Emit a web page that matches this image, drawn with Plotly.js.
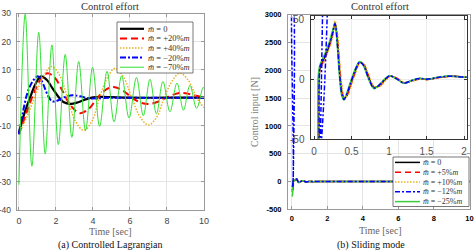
<!DOCTYPE html>
<html><head><meta charset="utf-8">
<script src="https://cdn.plot.ly/plotly-3.0.1.min.js"></script>
<style>html,body{margin:0;padding:0;background:#fff}#chart{width:476px;height:250px}</style>
</head><body><div id="chart"></div>
<script>
// ---------------- (a) Controlled Lagrangian : control effort ----------------
const lagNames = ['<i>m\u0304</i> = 0', '<i>m\u0304</i> = +20%<i>m</i>', '<i>m\u0304</i> = +40%<i>m</i>', '<i>m\u0304</i> = \u221220%<i>m</i>', '<i>m\u0304</i> = \u221270%<i>m</i>'];
const lagTimeTicks = [0, 2, 4, 6, 8, 10];
const lagEffortTicks = [-40, -30, -20, -10, 0, 10, 20, 30];
const lagEffortLabels = ['-40', '-30', '-20', '-10', '0', '10', '20', '30'];

const lagT0 = [0, 0.3, 0.6, 0.9, 1.2, 1.5, 1.8, 2.1, 2.4, 2.8, 3.2, 3.6, 4.0, 4.5, 5.0, 6.0, 8.0, 10];
const lagV0 = [-12.5, -5.5, 0, 5, 7.6, 6.4, 3.5, 0.6, -1.5, -2.2, -1.6, -0.6, 0.1, 0.3, 0.2, 0, 0, 0];

const lagTp20 = [0, 0.4, 0.8, 1.2, 1.55, 1.95, 2.35, 2.8, 3.3, 3.8, 4.25, 4.7, 5.1, 5.6, 6.1, 6.6, 7.1, 7.6, 8.1, 8.6, 9.0, 9.5, 10];
const lagVp20 = [-13, -5.5, 1.5, 6.8, 8.7, 7, 2.5, -2.8, -5.5, -3.8, 0, 2.9, 3.8, 2.6, 0, -1.8, -2.2, -1.2, 0.4, 1.6, 1.6, 0.8, 0.2];

const lagTp40 = [0, 0.45, 0.9, 1.35, 1.77, 2.2, 2.6, 3.05, 3.5, 3.95, 4.35, 4.8, 5.2, 5.65, 6.1, 6.55, 7.0, 7.45, 7.85, 8.3, 8.7, 9.15, 9.6, 10];
const lagVp40 = [-13, -6.5, 1, 8.0, 11.1, 8.0, 0.5, -8.3, -11.6, -8.3, 0, 7.4, 10.5, 7.4, 0, -6.9, -9.7, -6.9, 0, 6.2, 8.8, 6.2, 0, -3.6];

const lagTm20 = [0, 0.25, 0.5, 0.8, 1.05, 1.3, 1.55, 1.8, 2.1, 2.5, 2.9, 3.3, 3.8, 4.3, 5, 6, 8, 10];
const lagVm20 = [-13, -4, 2.5, 6.4, 7.6, 5, 1, -1.3, -1, 0.3, 0.9, 0.5, -0.2, -0.2, 0, 0, 0, 0];

const lagTm70 = [0, 0.34, 0.7, 1.07, 1.42, 1.78, 2.13, 2.5, 2.86, 3.23, 3.6, 3.98, 4.36, 4.76, 5.14, 5.55, 5.95, 6.35, 6.72, 7.08, 7.43, 7.78, 8.16, 8.54, 8.89, 9.24, 9.6, 9.95, 10];
const lagVm70 = [-31, 29.8, -24.4, 23.3, -20, 18.8, -16.7, 15.4, -14.1, 12.9, -11.7, 10.8, -10.2, 9.4, -8.6, 7.8, -7.2, 7.2, -6.4, 6.6, -5.7, 5.8, -5.0, 5.2, -4.4, 4.4, -3.8, 3.7, 3.3];

// ---------------- (b) Sliding mode : control input [N] ----------------
const smNames = ['<i>m\u0304</i> = 0', '<i>m\u0304</i> = +5%<i>m</i>', '<i>m\u0304</i> = +10%<i>m</i>', '<i>m\u0304</i> = \u221212%<i>m</i>', '<i>m\u0304</i> = \u221225%<i>m</i>'];
const smTimeTicks = [0, 2, 4, 6, 8, 10];
const smInputTicks = [-500, 0, 500, 1000, 1500, 2000, 2500, 3000];
const smInputLabels = ['-500', '0', '500', '1000', '1500', '2000', '2500', '3000'];
const insetTimeTicks = [0, 0.5, 1, 1.5, 2];
const insetTimeLabels = ['0', '0.5', '1', '1.5', '2'];
const insetInputTicks = [-50, 0, 50];
const insetInputLabels = ['-50', '0', '50'];

// start-up transient (per series)
const smSpikeT0 = [0, 0.05, 0.065];           const smSpikeV0 = [-150, -140, 5];
const smSpikeTp5 = [0, 0.055, 0.07];          const smSpikeVp5 = [-180, -160, 4];
const smSpikeTp10 = [0, 0.05, 0.068];         const smSpikeVp10 = [-90, -80, 5];
const smSpikeTm12 = [0, 0.034, 0.04, 0.072, 0.078]; const smSpikeVm12 = [-80, -80, 3300, 3300, -80];
const smSpikeTm25 = [0, 0.04, 0.06];          const smSpikeVm25 = [-265, -250, 5];

// response after the start-up (shared time samples)
const smBodyT = [0.08, 0.1, 0.13, 0.17, 0.21, 0.25, 0.28, 0.31, 0.34, 0.37, 0.4, 0.44, 0.5, 0.56, 0.61, 0.66, 0.72, 0.8, 0.88, 0.95, 1.01, 1.1, 1.2, 1.3, 1.41, 1.5, 1.65, 1.8, 2.0, 2.5, 3, 4, 5, 6, 8, 10];
const smBodyV0   = [9, 12, 16, 22, 29, 38, 47, 33, 8, -10, -16.5, -13, -2, 8.5, 14, 12, 3, -7, -5, -0.5, 2.5, 0.5, -3.3, -1.5, 0.4, -0.3, 1.2, 2.3, 1.7, 1.0, 0.5, 0.2, 0, 0, 0, 0];
const smBodyVp5  = [7, 11, 15, 21, 28, 37, 45, 36, 12, -7, -15.5, -14, -3.5, 7, 13.5, 12.5, 4, -6.5, -5.5, -1, 2.2, 0.8, -3, -1.8, 0.2, -0.4, 1.0, 2.2, 1.8, 1.0, 0.5, 0.2, 0, 0, 0, 0];
const smBodyVp10 = [6, 10, 14, 20, 27, 36, 48.5, 40, 15, -5, -15, -14.5, -4.5, 6, 13, 13, 5, -6, -6, -1.5, 2, 1, -2.8, -2, 0, -0.5, 0.9, 2.1, 1.9, 1.0, 0.5, 0.2, 0, 0, 0, 0];
const smBodyVm12 = [10, 13, 17, 23, 30, 39, 46, 30, 5, -12, -17, -12, -1, 9, 14.2, 11.5, 2, -7.5, -4.5, 0, 2.6, 0.3, -3.4, -1.3, 0.5, -0.2, 1.3, 2.4, 1.6, 1.0, 0.5, 0.2, 0, 0, 0, 0];
const smBodyVm25 = [12, 15, 19, 25, 32, 41, 46, 28, 2, -14, -17.5, -11, 0, 10, 14.5, 11, 1, -8, -4, 0.5, 2.7, 0, -3.5, -1.2, 0.6, -0.1, 1.4, 2.5, 1.6, 1.0, 0.5, 0.2, 0, 0, 0, 0];

// ---------------- styles ----------------
const W = 476, H = 250;
const px = x => x / W, py = y => 1 - y / H;
const serif = 'Liberation Serif, Times New Roman, serif';
const sans = 'Liberation Sans, Arial, sans-serif';

const lagStyle = [
  {color: '#000000', width: 2.2, dash: 'solid'},
  {color: '#ff0000', width: 2, dash: '7px,4px'},
  {color: '#edb120', width: 1.5, dash: '1.5px,1.5px'},
  {color: '#0000ff', width: 2, dash: '6px,2px,2px,2px'},
  {color: '#33e033', width: 1, dash: 'solid'}
];
const smStyle = [
  {color: '#000000', width: 1.5, dash: 'solid'},
  {color: '#ff0000', width: 1.5, dash: '6px,4px'},
  {color: '#edb120', width: 1.5, dash: '1.5px,1.5px'},
  {color: '#0000ff', width: 1.5, dash: '5px,2px,2px,2px'},
  {color: '#3ccc3c', width: 1.5, dash: 'solid'}
];

const traces = [];
const lagSeries = [[lagT0, lagV0], [lagTp20, lagVp20], [lagTp40, lagVp40], [lagTm20, lagVm20], [lagTm70, lagVm70]];
lagSeries.forEach((s, i) => traces.push({
  type: 'scatter', mode: 'lines', x: s[0], y: s[1], name: lagNames[i], xaxis: 'x', yaxis: 'y',
  line: {color: lagStyle[i].color, width: lagStyle[i].width, dash: lagStyle[i].dash, shape: 'spline'},
  hoverinfo: 'skip', showlegend: false
}));

const smSeries = [
  [smSpikeT0.concat(smBodyT), smSpikeV0.concat(smBodyV0)],
  [smSpikeTp5.concat(smBodyT), smSpikeVp5.concat(smBodyVp5)],
  [smSpikeTp10.concat(smBodyT), smSpikeVp10.concat(smBodyVp10)],
  [smSpikeTm12.concat(smBodyT), smSpikeVm12.concat(smBodyVm12)],
  [smSpikeTm25.concat(smBodyT), smSpikeVm25.concat(smBodyVm25)]
];
const smOrder = [0, 1, 2, 4, 3];
['2', '3'].forEach(ax => smOrder.forEach(i => traces.push({
  type: 'scatter', mode: 'lines', x: smSeries[i][0], y: smSeries[i][1], name: smNames[i],
  xaxis: 'x' + ax, yaxis: 'y' + ax,
  line: {color: smStyle[i].color, width: smStyle[i].width, dash: smStyle[i].dash, shape: 'spline'},
  hoverinfo: 'skip', showlegend: false
})));

// ---------------- custom compact legends ----------------
const shapes = [], annotations = [];
function legend(names, styles, box, row0, rowStep, lx0, lx1, tx, fs) {
  shapes.push({type: 'rect', xref: 'paper', yref: 'paper', layer: 'above',
    x0: px(box[0]), x1: px(box[1]), y0: py(box[3]), y1: py(box[2]),
    fillcolor: '#ffffff', line: {color: '#555', width: 0.8}});
  names.forEach((n, i) => {
    const y = row0 + i * rowStep;
    shapes.push({type: 'line', xref: 'paper', yref: 'paper', layer: 'above',
      x0: px(lx0), x1: px(lx1), y0: py(y), y1: py(y),
      line: {color: styles[i].color, width: styles[i].width, dash: styles[i].dash}});
    annotations.push({xref: 'paper', yref: 'paper', x: px(tx), y: py(y), xanchor: 'left', yanchor: 'middle',
      text: n, showarrow: false, font: {family: serif, size: fs, color: '#333'}});
  });
}
legend(lagNames, lagStyle, [117, 193, 22, 73], 28.8, 9.6, 120, 144, 146, 8.5);
legend(smNames, smStyle, [393, 469, 157, 206.5], 162.4, 9.8, 395, 420, 421, 8);

function label(text, x, y, size, color, angle) {
  annotations.push({xref: 'paper', yref: 'paper', x: px(x), y: py(y), xanchor: 'center', yanchor: 'middle',
    text: text, showarrow: false, textangle: angle || 0, font: {family: serif, size: size, color: color}});
}
label('Control effort', 110, 6, 10.5, '#333');
label('Control effort', 380, 6, 10.5, '#333');
label('Time [sec]', 110, 231, 10, '#666');
label('Time [sec]', 380, 230, 10, '#666');
label('Control input [N]', 255, 112, 10, '#777', -90);
label('(a) Controlled Lagrangian', 110, 245, 10, '#111');
label('(b) Sliding mode', 371, 245, 10, '#111');

// inset y tick labels, placed on the inset's own y scale
insetInputTicks.forEach((v, i) => annotations.push({xref: 'paper', yref: 'y3', x: px(306.5), y: v,
  xanchor: 'right', yanchor: 'middle', text: insetInputLabels[i], showarrow: false,
  font: {family: sans, size: 10, color: '#5a5050'}}));

const baseAx = {showline: true, mirror: 'ticks', ticks: 'inside', ticklen: 3, zeroline: false, showgrid: true, fixedrange: true};

const layout = {
  width: W, height: H, margin: {l: 0, r: 0, t: 0, b: 0},
  paper_bgcolor: '#ffffff', plot_bgcolor: '#ffffff', showlegend: false,
  xaxis: Object.assign({}, baseAx, {domain: [px(16.7), px(204)], range: [-0.12, 10], tickvals: lagTimeTicks,
    linecolor: '#999', tickcolor: '#999', gridcolor: '#e4e4e4', anchor: 'y', ticklabelstandoff: 2,
    tickfont: {family: sans, size: 9, color: '#444'}}),
  yaxis: Object.assign({}, baseAx, {domain: [py(210), py(13.5)], range: [-40, 30], tickvals: lagEffortTicks,
    ticktext: lagEffortLabels,
    linecolor: '#999', tickcolor: '#999', gridcolor: '#e4e4e4', anchor: 'x', ticklabelstandoff: 3,
    tickfont: {family: sans, size: 8.5, color: '#444'}}),
  xaxis2: Object.assign({}, baseAx, {domain: [px(288), px(469.5)], range: [-0.21, 10], tickvals: smTimeTicks,
    linecolor: '#999', tickcolor: '#999', gridcolor: '#e4e4e4', anchor: 'y2', ticklabelstandoff: 2,
    tickfont: {family: sans, size: 7.5, color: '#000', weight: 'bold'}}),
  yaxis2: Object.assign({}, baseAx, {domain: [py(209.3), py(14.8)], range: [-500, 3000], tickvals: smInputTicks,
    ticktext: smInputLabels,
    linecolor: '#999', tickcolor: '#999', gridcolor: '#e4e4e4', anchor: 'x2', ticklabelstandoff: 4,
    tickfont: {family: sans, size: 7.5, color: '#000', weight: 'bold'}}),
  xaxis3: Object.assign({}, baseAx, {domain: [px(311), px(466.5)], range: [-0.04, 2.033], tickvals: insetTimeTicks,
    ticktext: insetTimeLabels, linecolor: '#333', tickcolor: '#333', gridcolor: '#ececec', anchor: 'y3',
    ticklabelstandoff: 3, tickfont: {family: sans, size: 10, color: '#555'}}),
  yaxis3: Object.assign({}, baseAx, {domain: [py(139.3), py(16)], range: [-50.2, 52.5], tickvals: insetInputTicks,
    showticklabels: false,
    linecolor: '#333', tickcolor: '#333', gridcolor: '#ececec', anchor: 'x3'}),
  shapes: shapes, annotations: annotations
};

Plotly.newPlot('chart', traces, layout, {staticPlot: true, displayModeBar: false});
</script></body></html>
